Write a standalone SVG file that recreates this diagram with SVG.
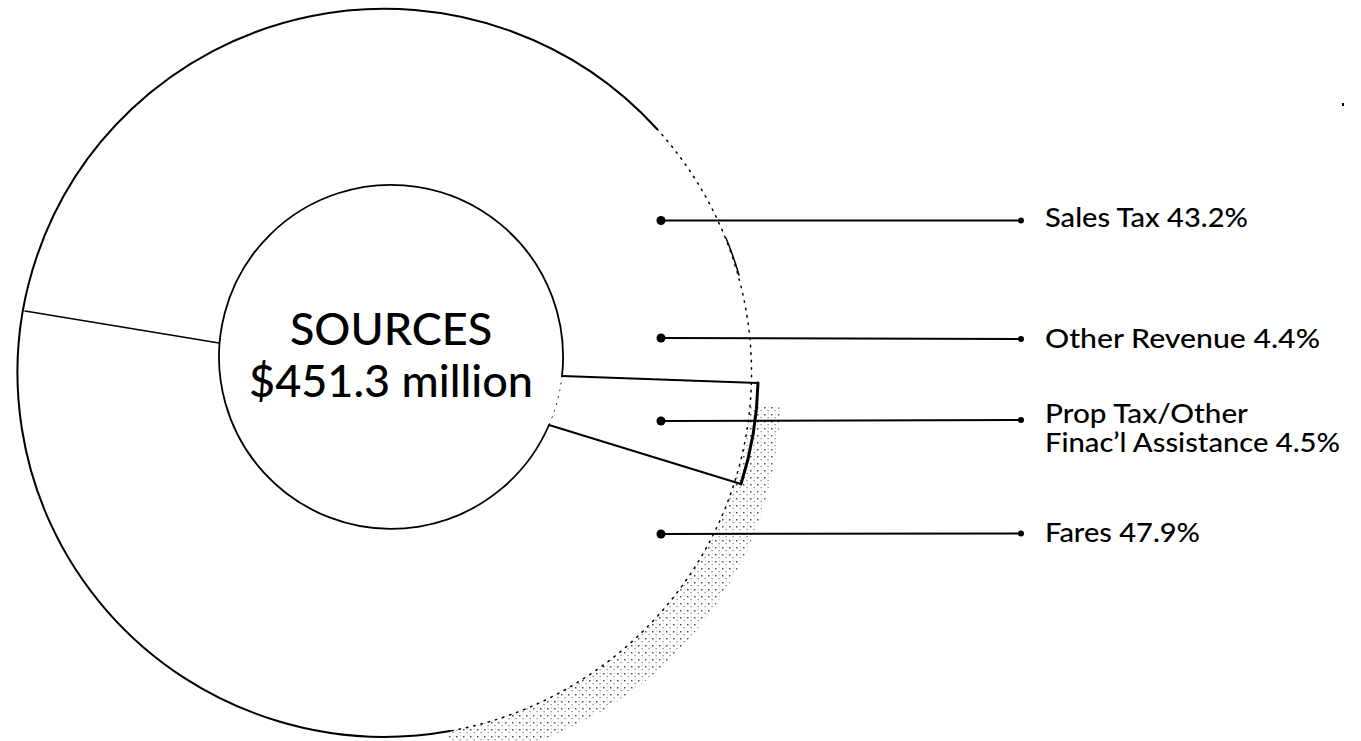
<svg xmlns="http://www.w3.org/2000/svg" width="1361" height="741" viewBox="0 0 1361 741">
  <style>
    .ln { fill: none; stroke: #000; stroke-linecap: round; stroke-linejoin: round; }
    .lbl { font-family: Lato, "Open Sans", "Liberation Sans", sans-serif; font-size: 26px; font-weight: 500; fill: #000; }
    .big { font-family: Lato, "Open Sans", "Liberation Sans", sans-serif; font-size: 45px; font-weight: 500; fill: #000; text-anchor: middle; }
    .dot { fill: #000; }
  </style>
  <defs>
    <pattern id="stip" width="7" height="7" patternUnits="userSpaceOnUse">
      <rect x="1" y="1" width="1.5" height="1.5" fill="#222"/>
      <rect x="4.5" y="4" width="1.2" height="1.2" fill="#555"/>
      <rect x="5" y="0.5" width="0.9" height="0.9" fill="#999"/>
    </pattern>
    <clipPath id="sector">
      <polygon points="385,373 1182,443 524,1161"/>
    </clipPath>
  </defs>
  <rect width="1361" height="741" fill="#fff"/>

  <g id="shadow">
    <ellipse cx="413" cy="399" rx="367" ry="364" fill="url(#stip)" opacity="0.8" clip-path="url(#sector)"/>
  </g>

  <g id="outer-ring">
    <ellipse cx="385" cy="373" rx="367" ry="364" fill="#fff" stroke="none"/>
    <path class="ln" d="M450,731 A367,364 0 1 1 657,129" stroke-width="2"/>
    <path class="ln" d="M657,129 A367,364 0 0 1 450,731" stroke="#888" stroke-width="1.5" stroke-dasharray="1.5 6"/>
    <path class="ln" d="M726,238 A367,364 0 0 1 739,275" stroke-width="1.5"/>
    <line class="ln" x1="25" y1="311" x2="219" y2="343" stroke-width="1.5"/>
  </g>

  <g id="inner-circle">
    <path d="M549,425 A172,172 0 1 1 562,376" fill="#fff" stroke="#000" stroke-width="1.8"/>
    <path class="ln" d="M562,376 A172,172 0 0 1 549,425" stroke="#ccc" stroke-width="1" stroke-dasharray="1 6"/>
    <text class="big" x="391" y="345">SOURCES</text>
    <text class="big" x="391" y="397">$451.3 million</text>
  </g>

  <g id="wedge-prop-tax">
    <path class="ln" d="M562,376 L758,383" stroke-width="2"/>
    <path class="ln" d="M758,383 A367,364 0 0 1 741,484" stroke-width="3"/>
    <path class="ln" d="M741,484 L549,425" stroke-width="2"/>
  </g>

  <g id="connectors">
    <line class="ln" x1="661" y1="220.5" x2="1021" y2="220.5" stroke-width="2"/>
    <circle class="dot" cx="661" cy="220.5" r="4.5"/>
    <circle class="dot" cx="1021" cy="220.5" r="3"/>
    <line class="ln" x1="661" y1="338" x2="1021" y2="339" stroke-width="2"/>
    <circle class="dot" cx="661" cy="338" r="4.5"/>
    <circle class="dot" cx="1021" cy="339" r="3"/>
    <line class="ln" x1="661" y1="421" x2="1021" y2="420" stroke-width="2"/>
    <circle class="dot" cx="661" cy="421" r="4.5"/>
    <circle class="dot" cx="1021" cy="420" r="3"/>
    <line class="ln" x1="661" y1="534" x2="1021" y2="533.5" stroke-width="2"/>
    <circle class="dot" cx="661" cy="534" r="4.5"/>
    <circle class="dot" cx="1021" cy="533.5" r="3"/>
  </g>

  <g id="label-sales-tax"><text class="lbl" x="1045" y="227" textLength="203" lengthAdjust="spacingAndGlyphs">Sales Tax 43.2%</text></g>
  <g id="label-other-revenue"><text class="lbl" x="1045" y="348" textLength="275" lengthAdjust="spacingAndGlyphs">Other Revenue 4.4%</text></g>
  <g id="label-prop-tax">
    <text class="lbl" x="1045" y="423" textLength="203" lengthAdjust="spacingAndGlyphs">Prop Tax/Other</text>
    <text class="lbl" x="1045" y="452" textLength="295" lengthAdjust="spacingAndGlyphs">Finac’l Assistance 4.5%</text>
  </g>
  <g id="label-fares"><text class="lbl" x="1045" y="542" textLength="155" lengthAdjust="spacingAndGlyphs">Fares 47.9%</text></g>

  <rect x="1342" y="103" width="2" height="3" fill="#000"/>
</svg>
